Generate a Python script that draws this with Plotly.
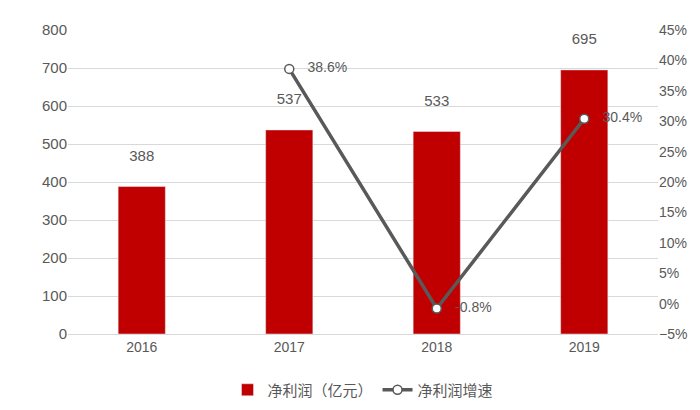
import plotly.graph_objects as go

years = ["2016", "2017", "2018", "2019"]
profit = [388, 537, 533, 695]
growth = [None, 38.6, -0.8, 30.4]
growth_labels = ["", "38.6%", "-0.8%", "30.4%"]

fig = go.Figure()
fig.add_trace(go.Bar(x=years, y=profit, name="净利润（亿元）", marker_color="#C00000",
                     width=0.32, text=[f"{v}<br> " for v in profit], textposition="outside",
                     textfont=dict(size=15, color="#595959"), cliponaxis=False))
fig.add_trace(go.Scatter(x=years, y=growth, name="净利润增速", yaxis="y2",
                         mode="lines+markers+text", text=["   " + t for t in growth_labels],
                         textposition="middle right", textfont=dict(size=14, color="#595959"),
                         line=dict(color="#595959", width=3.5),
                         marker=dict(size=9, color="white", line=dict(color="#595959", width=1.5)),
                         connectgaps=False, cliponaxis=False))
fig.update_layout(
    width=700, height=410, margin=dict(l=60, r=50, t=22, b=73),
    plot_bgcolor="white", paper_bgcolor="white",
    font=dict(family="Liberation Sans, Noto Sans CJK SC", color="#595959", size=14),
    xaxis=dict(showline=True, linecolor="#D9D9D9", ticks="", tickfont=dict(size=14)),
    yaxis=dict(range=[0, 800], dtick=100, gridcolor="#D9D9D9", zeroline=False, tickfont=dict(size=15)),
    yaxis2=dict(range=[-5, 45], dtick=5, ticksuffix="%", overlaying="y", side="right",
                showgrid=False, zeroline=False, tickfont=dict(size=14)),
    legend=dict(orientation="h", x=0.5, xanchor="center", y=-0.13, yanchor="top",
                font=dict(size=15, family="Noto Sans CJK SC")),
)
fig.write_html("out.html")
